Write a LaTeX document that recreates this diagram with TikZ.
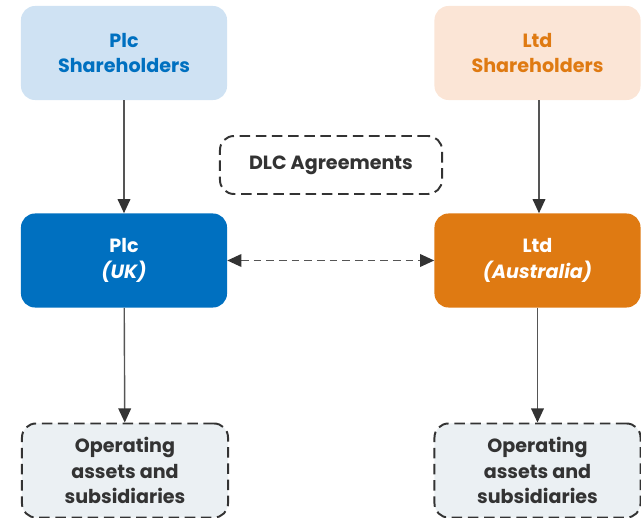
\documentclass[tikz,border=0pt]{standalone}
\usepackage{fontspec}
\setmainfont{Poppins}
\usepackage{xcolor}
\definecolor{plcblue}{HTML}{0070C0}
\definecolor{plclight}{HTML}{CFE2F3}
\definecolor{ltdorange}{HTML}{DF7A12}
\definecolor{ltdlight}{HTML}{FBE5D6}
\definecolor{opfill}{HTML}{EBF0F3}
\definecolor{linegray}{HTML}{333333}
\definecolor{arrowgray}{HTML}{555555}
\usetikzlibrary{arrows.meta, calc}

\begin{document}
\begin{tikzpicture}[x=0.025cm, y=-0.025cm,
  box/.style={rounded corners=0.35cm, minimum width=5.15cm, minimum height=2.35cm, align=center, font=\bfseries\fontsize{13.6}{18.4}\selectfont, inner sep=0pt},
  dashbox/.style={box, draw=linegray, line width=1.4pt, dash pattern=on 7.5pt off 4pt, text=linegray},
  link/.style={-{Triangle[length=10pt, width=9pt, color=linegray]}, line width=1pt, arrowgray}]
  \useasboundingbox (0,0) rectangle (641,518);

  \node[box, fill=plclight, text=plcblue] (plcsh) at (124,53) {Plc\\Shareholders};
  \node[box, fill=ltdlight, text=ltdorange] (ltdsh) at (537.5,53) {Ltd\\Shareholders};
  \node[dashbox, fill=white, minimum width=5.55cm, minimum height=1.45cm] (dlc) at (331,165) {DLC Agreements};
  \node[box, fill=plcblue, text=white] (plc) at (124,260.5) {Plc\\\textit{(UK)}};
  \node[box, fill=ltdorange, text=white] (ltd) at (537.5,260.5) {Ltd\\\textit{(Australia)}};
  \node[dashbox, fill=opfill] (plcop) at (125,470.5) {Operating\\assets and\\subsidiaries};
  \node[dashbox, fill=opfill] (ltdop) at (537.5,470.5) {Operating\\assets and\\subsidiaries};

  \draw[link] (plcsh) -- (plc);
  \draw[link] (ltdsh.south) ++(1.5,0) -- ($(ltd.north)+(1.5,0)$);
  \draw[link] (plc) -- (plcop);
  \draw[link] (ltd) -- (ltdop);
  \draw[link, {Triangle[length=10pt, width=9pt, color=linegray]}-{Triangle[length=10pt, width=9pt, color=linegray]}, dash pattern=on 5.5pt off 3.5pt] (plc) -- (ltd);

\end{tikzpicture}
\end{document}
